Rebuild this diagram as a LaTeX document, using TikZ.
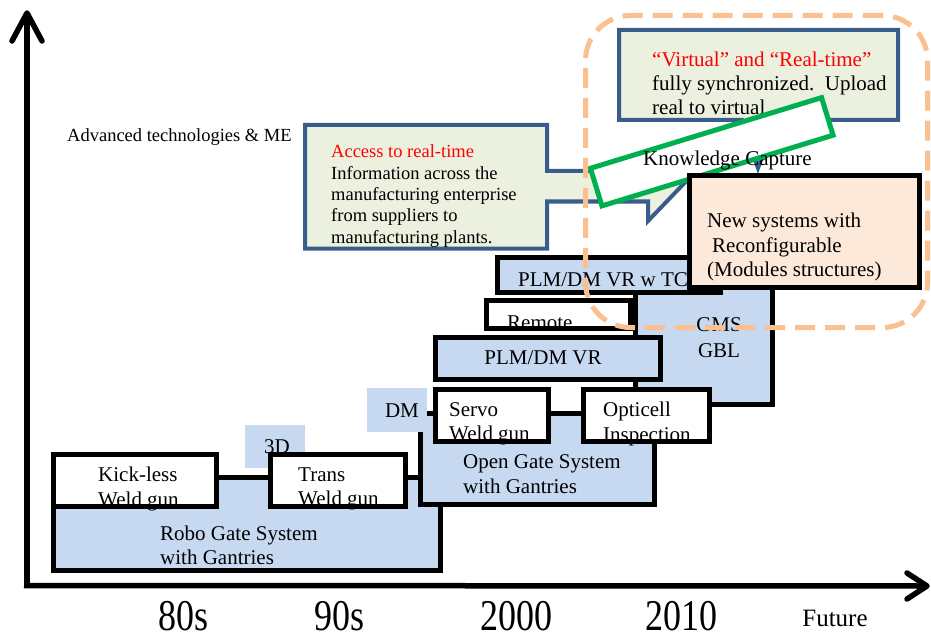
\documentclass[tikz,border=0pt]{standalone}
\usepackage{graphicx}
\usepackage{fontspec}
\setmainfont{Liberation Serif}
\definecolor{boxblue}{HTML}{C6D9F1}
\definecolor{callfill}{HTML}{EBF1DE}
\definecolor{callline}{HTML}{385D8A}
\definecolor{peach}{HTML}{FDE9D9}
\definecolor{kgreen}{HTML}{00B050}
\definecolor{dashorange}{HTML}{FAC090}
\tikzset{
  bbox/.style={draw=black, line width=5pt, fill=boxblue, inner sep=0pt, outer sep=0pt},
  wbox/.style={bbox, fill=white},
  plainblue/.style={fill=boxblue, inner sep=0pt, outer sep=0pt},
  edgeonly/.style={draw=black, line width=5pt},
  txt/.style={font=\fontsize{21}{24.5}\selectfont, inner sep=0pt, align=left, anchor=west},
  ctxt/.style={font=\fontsize{21}{24.5}\selectfont, inner sep=0pt, align=center, anchor=center},
  smalltxt/.style={font=\fontsize{18.5}{21.4}\selectfont, inner sep=0pt, align=left, anchor=west},
  calloutline/.style={draw=callline, line width=4pt, fill=callfill, line join=miter},
  axisline/.style={line width=5.5pt, line cap=round, line join=round},
  yearlbl/.style={font=\fontsize{36}{36}\selectfont, inner sep=0pt, anchor=base}
}
\begin{document}
\begin{tikzpicture}[x=1pt, y=-1pt]
\useasboundingbox (0,0) rectangle (931,639);

% axes
\coordinate (origin) at (27,585);
\coordinate (ytip) at (27,13);
\coordinate (xtip) at (927,586);
\draw[line width=5.5pt] (24,585.5) -- (xtip);
\draw[line width=5.5pt] (origin) -- (ytip);
\draw[axisline] (12,41) -- (ytip) -- (42,41);
\draw[axisline] (907,573) -- (xtip) -- (907,599);

\node[yearlbl] (y80) at (184,630) {\scalebox{1}[1.22]{80s}};
\node[yearlbl] (y90) at (340,630) {\scalebox{1}[1.22]{90s}};
\node[yearlbl] (y2000) at (516,630) {\scalebox{1}[1.22]{2000}};
\node[yearlbl] (y2010) at (681,630) {\scalebox{1}[1.22]{2010}};
\node[font=\fontsize{25}{25}\selectfont, inner sep=0pt] (fut) at (835,618) {Future};

\node[smalltxt] (adv) at (67,137) {Advanced technologies \& ME};

% Robo gate
\node[bbox, minimum width=387pt, minimum height=93.5pt] (robo) at (247,523.75) {};
\node[txt] (robot) at (160,545.5) {Robo Gate System\\with Gantries};

% 3D
\node[plainblue, minimum width=60pt, minimum height=43pt] (d3) at (275,446.5) {};
\node[ctxt] (d3t) at (277,447) {3D};

% Kick-less
\node[wbox, minimum width=163pt, minimum height=52pt] (kick) at (135,480.5) {};
\node[txt] (kickt) at (98,489) {Kick-less\\Weld gun};
\draw[edgeonly] (kick.south west) rectangle (kick.north east);

% Trans
\node[wbox, minimum width=135pt, minimum height=52pt] (trans) at (338,480.5) {};
\node[txt] (transt) at (298,489) {Trans\\Weld gun};
\draw[edgeonly] (trans.south west) rectangle (trans.north east);

% GMS
\node[bbox, minimum width=137.5pt, minimum height=134.5pt] (gms) at (703.75,337.25) {};
\node[ctxt, font=\fontsize{21}{26}\selectfont] (gmst) at (719,338) {GMS\\GBL};

% PLM/DM VR w TC
\node[bbox, minimum width=222.5pt, minimum height=34.5pt] (plmtc) at (608.75,274.75) {};
\node[txt] (plmtct) at (518,280) {PLM/DM VR w TC};

% Remote
\node[wbox, minimum width=144pt, minimum height=28pt] (remote) at (558.5,314.5) {};
\node[txt] (remotet) at (507,323) {Remote};
\draw[edgeonly] (remote.south west) rectangle (remote.north east);

% PLM/DM VR
\node[bbox, minimum width=225pt, minimum height=42pt] (plm) at (548,358.5) {};
\node[ctxt] (plmt) at (543,358) {PLM/DM VR};

% Open gate
\node[bbox, minimum width=234pt, minimum height=91.5pt] (open) at (537.5,458.75) {};
\node[txt] (opent) at (463,474) {Open Gate System\\with Gantries};

% DM
\node[plainblue, minimum width=60pt, minimum height=44pt] (dm) at (397,410) {};
\node[ctxt] (dmt) at (402,411) {DM};

% Servo
\node[wbox, minimum width=113pt, minimum height=52pt] (servo) at (492,415.5) {};
\node[txt] (servot) at (449,424) {Servo\\Weld gun};
\draw[edgeonly] (servo.south west) rectangle (servo.north east);

% Opticell
\node[wbox, minimum width=126pt, minimum height=52pt] (opti) at (646.5,415.5) {};
\node[txt] (optit) at (603,424) {Opticell\\Inspection};
\draw[edgeonly] (opti.south west) rectangle (opti.north east);

% Access callout
\coordinate (acc1) at (305,125);
\coordinate (acc2) at (547,125);
\coordinate (acc3) at (547,171);
\coordinate (acc4) at (696,171);
\coordinate (acctip) at (648,221);
\coordinate (acc5) at (648,201.5);
\coordinate (acc6) at (547,201.5);
\coordinate (acc7) at (547,248.5);
\coordinate (acc8) at (305,248.5);
\draw[calloutline] (acc1) -- (acc2) -- (acc3) -- (acc4) -- (acctip) -- (acc5) -- (acc6) -- (acc7) -- (acc8) -- cycle;
\node[smalltxt] (acct) at (331,196) {\textcolor{red}{Access to real-time}\\Information across the\\manufacturing enterprise\\from suppliers to\\manufacturing plants.};

% Virtual callout
\coordinate (v1) at (619,30);
\coordinate (v2) at (898,30);
\coordinate (v3) at (898,120);
\coordinate (v4) at (776,120);
\coordinate (vtip) at (758,168);
\coordinate (v5) at (742,120);
\coordinate (v6) at (619,120);
\draw[calloutline] (v1) -- (v2) -- (v3) -- (v4) -- (vtip) -- (v5) -- (v6) -- cycle;
\node[txt, font=\fontsize{21}{24}\selectfont] (vt) at (652,83) {\textcolor{red}{“Virtual” and “Real-time”}\\fully synchronized.\ \ Upload\\real to virtual};

% green knowledge capture box
\node[draw=kgreen, line width=5pt, fill=white, minimum width=241.7pt, minimum height=39.3pt, rotate=17, inner sep=0pt, outer sep=0pt] (kc) at (711.75,151.75) {};

% New systems
\node[bbox, fill=peach, minimum width=230pt, minimum height=112pt] (newsys) at (804.5,231.5) {};
\node[txt] (newsyst) at (707,247) {New systems with\\\hspace{5pt}Reconfigurable\\(Modules structures)};

\node[txt] (kct) at (643,160) {Knowledge Capture};

% dashed future zone
\node[draw=dashorange, line width=5pt, dash pattern=on 20pt off 10pt, rounded corners=45pt, minimum width=342pt, minimum height=312pt, inner sep=0pt, outer sep=0pt] (zone) at (756.5,171.5) {};
\end{tikzpicture}
\end{document}
